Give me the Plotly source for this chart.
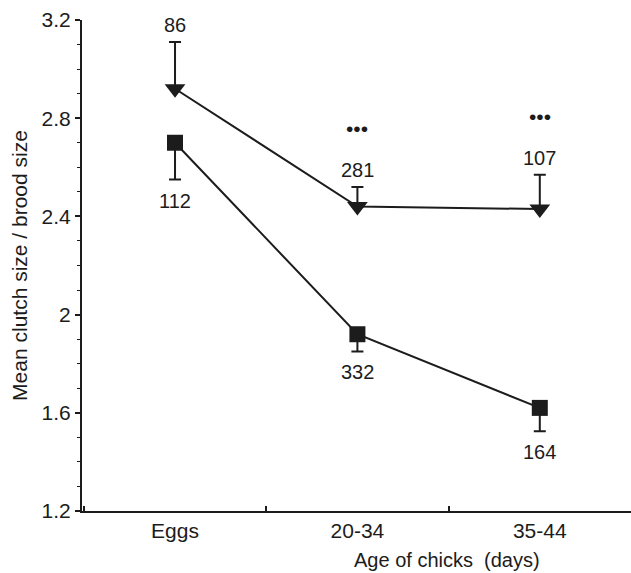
import plotly.graph_objects as go

# Age classes on the x axis
categories = ["Eggs", "20-34", "35-44"]

# Upper series (down-pointing triangles): means, one-sided error (upwards), sample sizes
upper_mean = [2.92, 2.44, 2.43]
upper_err = [0.19, 0.08, 0.14]
upper_n = ["86", "281", "107"]
upper_sig = ["", "•••", "•••"]

# Lower series (squares): means, one-sided error (downwards), sample sizes
lower_mean = [2.70, 1.92, 1.62]
lower_err = [0.15, 0.07, 0.095]
lower_n = ["112", "332", "164"]

# y-axis ticks
y_ticks = [1.2, 1.6, 2.0, 2.4, 2.8, 3.2]
y_tick_text = ["1.2", "1.6", "2", "2.4", "2.8", "3.2"]

INK = "#1c1c1c"
FONT = "Liberation Sans, Arial, Helvetica, sans-serif"

fig = go.Figure()

fig.add_trace(go.Scatter(
    x=categories, y=upper_mean, mode="lines+markers",
    line=dict(color=INK, width=2),
    marker=dict(symbol="triangle-down", size=18, color=INK),
    error_y=dict(type="data", symmetric=False, array=upper_err,
                 arrayminus=[0] * len(upper_err), color=INK,
                 thickness=2, width=6),
    showlegend=False,
))

fig.add_trace(go.Scatter(
    x=categories, y=lower_mean, mode="lines+markers",
    line=dict(color=INK, width=2),
    marker=dict(symbol="square", size=16, color=INK),
    error_y=dict(type="data", symmetric=False, array=[0] * len(lower_err),
                 arrayminus=lower_err, color=INK, thickness=2, width=6),
    showlegend=False,
))

annotations = []
for c, m, e, n, s in zip(categories, upper_mean, upper_err, upper_n, upper_sig):
    annotations.append(dict(x=c, y=m + e, xref="x", yref="y", text=n,
                            showarrow=False, yanchor="middle", yshift=17,
                            font=dict(size=20, color=INK, family=FONT)))
    if s:
        annotations.append(dict(x=c, y=m + e, xref="x", yref="y", text=s,
                                showarrow=False, yanchor="middle", yshift=58,
                                font=dict(size=21, color=INK, family=FONT)))
for c, m, e, n in zip(categories, lower_mean, lower_err, lower_n):
    annotations.append(dict(x=c, y=m - e, xref="x", yref="y", text=n,
                            showarrow=False, yanchor="middle", yshift=-21,
                            font=dict(size=20, color=INK, family=FONT)))

annotations.append(dict(x=0.665, y=-0.1, xref="paper", yref="paper",
                        text="Age of chicks  (days)", showarrow=False,
                        xanchor="center", yanchor="middle",
                        font=dict(size=20, color=INK, family=FONT)))

fig.update_layout(
    width=631, height=573,
    margin=dict(l=82, r=0, t=20, b=62),
    paper_bgcolor="white", plot_bgcolor="white",
    font=dict(family=FONT, color=INK, size=21),
    annotations=annotations,
    xaxis=dict(
        type="category", range=[-0.51, 2.5],
        showline=True, linecolor=INK, linewidth=2,
        ticks="inside", tickson="boundaries", ticklen=5, tickwidth=1.5,
        tickcolor=INK, showgrid=False, zeroline=False,
        tickfont=dict(size=21, color=INK, family=FONT),
    ),
    yaxis=dict(
        range=[1.2, 3.2], tickvals=y_ticks, ticktext=y_tick_text,
        showline=True, linecolor=INK, linewidth=2,
        ticks="outside", ticklen=5, tickwidth=1.5, tickcolor=INK,
        minor=dict(dtick=0.1, ticks="outside", ticklen=3, tickcolor=INK,
                   tickwidth=1),
        showgrid=False, zeroline=False,
        tickfont=dict(size=21, color=INK, family=FONT),
        title=dict(text="Mean clutch size / brood size", standoff=8,
                   font=dict(size=21, color=INK, family=FONT)),
    ),
)

fig.write_html("out.html")
